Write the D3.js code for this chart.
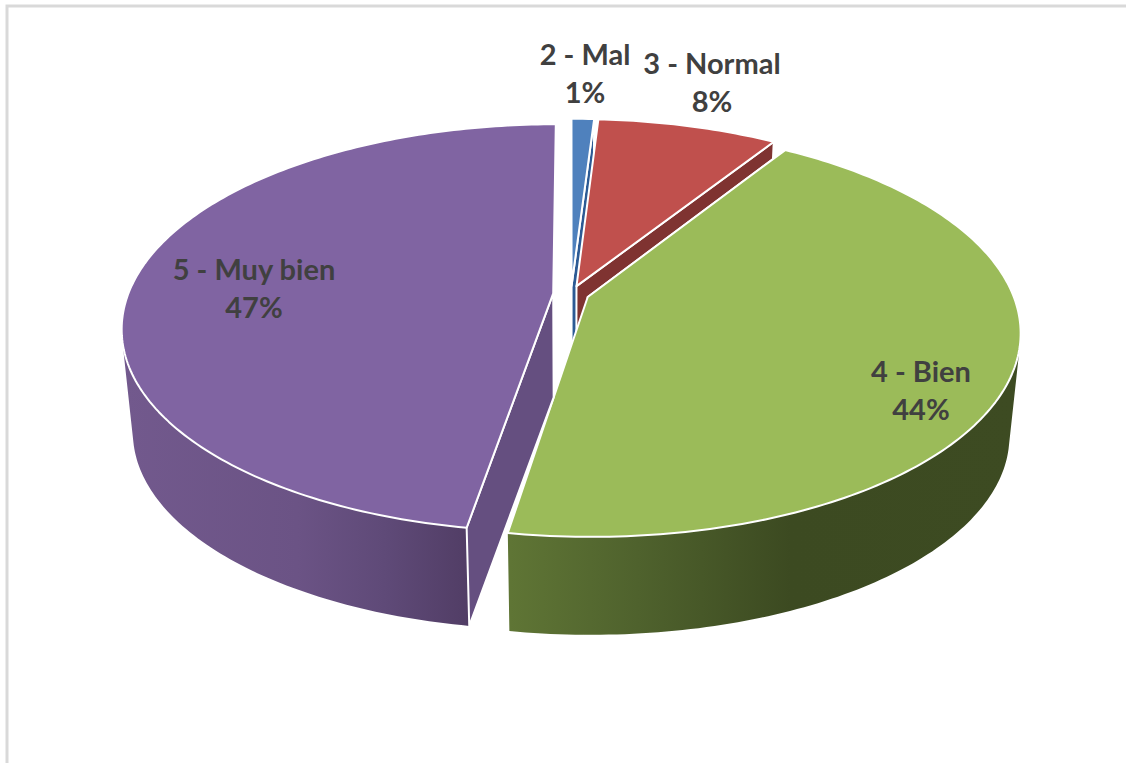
<!DOCTYPE html>
<html>
<head>
<meta charset="utf-8">
<script src="https://cdnjs.cloudflare.com/ajax/libs/d3/7.8.5/d3.min.js"></script>
<style>
html,body{margin:0;padding:0;background:#fff;}
svg{display:block;}
text{font-family:Lato,"Open Sans",sans-serif;font-weight:700;fill:#404040;font-size:29px;text-anchor:middle;}
</style>
</head>
<body>
<svg id="chart" width="1126" height="763"></svg>
<script>
const categories = ["2 - Mal", "3 - Normal", "4 - Bien", "5 - Muy bien"];
const values = [1, 8, 43.6, 47.4];
const percentLabels = ["1%", "8%", "44%", "47%"];
const topColors = ["#4f81bd", "#c0504d", "#9bbb59", "#8064a2"];
const faceColors = ["#2c5a94", "#7f3331", "#5f7535", "#654f80"];

const W = 1126, H = 763;
const cx = 571, cy = 294, R = 425, RY = 198, K = 0.17;
const explode = 0.042, shrink = 0.975, drop = 104;
const labelAnchors = [[585, 65], [712, 74], [921, 382], [254, 280]];

const svg = d3.select("#chart");
svg.append("path")
  .attr("d", d3.line()([[7, H], [7, 6], [W, 6]]))
  .attr("fill", "none").attr("stroke", "#d9d9d9").attr("stroke-width", 3);

const defs = svg.append("defs");
function gradient(id, x1, x2, stops) {
  const g = defs.append("linearGradient").attr("id", id)
    .attr("gradientUnits", "userSpaceOnUse")
    .attr("x1", x1).attr("x2", x2).attr("y1", 0).attr("y2", 0);
  stops.forEach(s => g.append("stop").attr("offset", s[0]).attr("stop-color", s[1]));
}
gradient("wall2", 510, 1020, [[0, "#5f7535"], [0.25, "#4f622d"], [0.55, "#3c4a21"], [1, "#3d4b22"]]);
gradient("wall3", 125, 470, [[0, "#72598d"], [0.5, "#6b5385"], [0.75, "#5f4a78"], [1, "#513d65"]]);

const pie = d3.pie().sort(null).startAngle(0).endAngle(2 * Math.PI);
const arcs = pie(values);

function project(X, Y, bottom) {
  const s = 1 / (1 + K * Y), f = bottom ? shrink : 1;
  return [cx + f * R * X * s, cy - f * RY * Y * s + (bottom ? drop : 0)];
}
const line = d3.line();
// which cut edge of each slice faces the viewer: 0 = start edge, 1 = end edge
const visibleEdge = [1, 1, 0, 0];

arcs.forEach((a, i) => {
  const mid = (a.startAngle + a.endAngle) / 2;
  const ox = explode * Math.sin(mid), oy = explode * Math.cos(mid);
  const n = Math.max(4, Math.ceil((a.endAngle - a.startAngle) * 60));
  const angles = d3.range(n + 1).map(j => a.startAngle + (a.endAngle - a.startAngle) * j / n);
  const rim = b => angles.map(t => project(ox + Math.sin(t), oy + Math.cos(t), b));
  const centre = b => project(ox, oy, b);
  const rimTop = rim(false), rimBot = rim(true);
  const wallFill = i === 2 ? "url(#wall2)" : i === 3 ? "url(#wall3)" : faceColors[i];
  const g = svg.append("g");
  const white = sel => sel.attr("stroke", "#fff").attr("stroke-width", 2).attr("stroke-linejoin", "round");

  // outer wall: same-winding quads on the near part of the rim only
  const wallPath = d3.range(n).filter(j => Math.cos(angles[j]) < 0.2).map(j => {
    const q = [rimTop[j], rimTop[j + 1], rimBot[j + 1], rimBot[j]];
    if (d3.polygonArea(q) < 0) q.reverse();
    return line(q) + "Z";
  }).join("");
  if (wallPath) g.append("path").attr("d", wallPath).attr("fill", wallFill);

  // cut face
  const idx = visibleEdge[i] ? n : 0;
  white(g.append("path")
    .attr("d", line([centre(false), rimTop[idx], rimBot[idx], centre(true)]) + "Z")
    .attr("fill", faceColors[i]));

  // top face
  white(g.append("path")
    .attr("d", line([centre(false)].concat(rimTop)) + "Z")
    .attr("fill", topColors[i]));
});

svg.append("g").selectAll("text").data(categories).join("text")
  .attr("x", (d, i) => labelAnchors[i][0])
  .attr("y", (d, i) => labelAnchors[i][1])
  .text(d => d);
svg.append("g").selectAll("text").data(percentLabels).join("text")
  .attr("x", (d, i) => labelAnchors[i][0])
  .attr("y", (d, i) => labelAnchors[i][1] + 38)
  .text(d => d);
</script>
</body>
</html>
